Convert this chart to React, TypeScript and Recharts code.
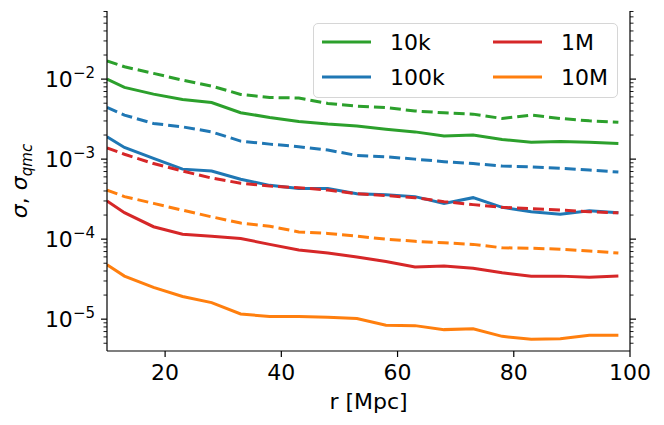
import { LineChart, Line, XAxis, YAxis, Legend } from 'recharts';

const rValues = [10, 13, 18, 23, 28, 33, 38, 43, 48, 53, 58, 63, 68, 73, 78, 83, 88, 93, 98];

// sigma (solid) and sigma_qmc (dashed) per sample size
const sigma10k = [0.0100, 0.00787, 0.00649, 0.00557, 0.0051, 0.0038, 0.00332, 0.00296, 0.00274, 0.00259, 0.00237, 0.00219, 0.00194, 0.0020, 0.00176, 0.00162, 0.00166, 0.00162, 0.00157];
const qmc10k = [0.0169, 0.01426, 0.0118, 0.0097, 0.00818, 0.00644, 0.0059, 0.0058, 0.00497, 0.0046, 0.0044, 0.0040, 0.00379, 0.00365, 0.00322, 0.00355, 0.00322, 0.00301, 0.00288];
const sigma100k = [0.0019, 0.0014, 0.00102, 0.00075, 0.00071, 0.00056, 0.00047, 0.00043, 0.00043, 0.00037, 0.00036, 0.00034, 0.00028, 0.00033, 0.00025, 0.00022, 0.000205, 0.000226, 0.000213];
const qmc100k = [0.00442, 0.00355, 0.00279, 0.00253, 0.00219, 0.00168, 0.00154, 0.00143, 0.0013, 0.00111, 0.00107, 0.0010, 0.00093, 0.00088, 0.00082, 0.0008, 0.00077, 0.00073, 0.00069];
const sigma1M = [0.0003, 0.000214, 0.000143, 0.000115, 0.000109, 0.000102, 0.000086, 0.000073, 0.000067, 0.00006, 0.0000525, 0.000045, 0.0000463, 0.0000434, 0.000038, 0.0000345, 0.0000345, 0.0000335, 0.0000347];
const qmc1M = [0.00138, 0.00115, 0.00088, 0.00071, 0.00058, 0.0005, 0.00046, 0.00044, 0.00041, 0.00037, 0.00035, 0.00033, 0.000294, 0.00027, 0.00025, 0.00024, 0.000232, 0.00022, 0.000213];
const sigma10M = [0.000048, 0.0000345, 0.0000249, 0.0000192, 0.0000161, 0.0000116, 0.0000108, 0.0000108, 0.0000106, 0.0000102, 0.0000084, 0.0000083, 0.0000074, 0.0000076, 0.0000061, 0.0000056, 0.0000057, 0.0000063, 0.0000063];
const qmc10M = [0.00041, 0.00034, 0.00028, 0.00023, 0.00019, 0.000159, 0.000145, 0.000123, 0.000118, 0.000109, 0.0001, 0.000094, 0.00009, 0.000086, 0.000078, 0.000077, 0.000075, 0.000071, 0.000067];

const xTicks = [20, 40, 60, 80, 100];
const majorExps = [-5, -4, -3, -2];
const majorTicks = [1e-5, 1e-4, 1e-3, 1e-2];
const minorTicks: number[] = [];
for (const e of [-6, -5, -4, -3, -2]) {
    for (let m = 2; m <= 9; m++) {
        const v = m * Math.pow(10, e);
        if (v > 4e-6 && v < 0.071) minorTicks.push(v);
    }
}

const series = [
    { key: 'sigma10k', label: '10k', values: sigma10k, color: '#2ca02c', dashed: false },
    { key: 'qmc10k', label: '10k', values: qmc10k, color: '#2ca02c', dashed: true },
    { key: 'sigma100k', label: '100k', values: sigma100k, color: '#1f77b4', dashed: false },
    { key: 'qmc100k', label: '100k', values: qmc100k, color: '#1f77b4', dashed: true },
    { key: 'sigma1M', label: '1M', values: sigma1M, color: '#d62728', dashed: false },
    { key: 'qmc1M', label: '1M', values: qmc1M, color: '#d62728', dashed: true },
    { key: 'sigma10M', label: '10M', values: sigma10M, color: '#ff7f0e', dashed: false },
    { key: 'qmc10M', label: '10M', values: qmc10M, color: '#ff7f0e', dashed: true },
];

const data = rValues.map((r, i) => {
    const row: Record<string, number> = { r };
    series.forEach((s) => {
        row[s.key] = s.values[i];
    });
    return row;
});

const FONT = 'DejaVu Sans';
const PLOT_LEFT = 107;
const PLOT_RIGHT = 630;

function YTick(props: any) {
    const { y, payload, side } = props;
    const v = payload.value;
    const idx = majorTicks.indexOf(v);
    const major = idx >= 0;
    const len = major ? 6 : 3.5;
    const x0 = side === 'left' ? PLOT_LEFT : PLOT_RIGHT;
    const x1 = side === 'left' ? x0 - len : x0 + len;
    return (
        <g>
            <line x1={x0} x2={x1} y1={y} y2={y} stroke="#000" strokeWidth={major ? 1.2 : 0.9} />
            {major && side === 'left' && (
                <text x={PLOT_LEFT - 12} y={y + 8} textAnchor="end" fontSize={22} fontFamily={FONT} fill="#000">
                    10
                    <tspan dy={-9} fontSize={15}>{'\u2212' + Math.abs(majorExps[idx])}</tspan>
                </text>
            )}
        </g>
    );
}

const legendItems = [
    { label: '10k', color: '#2ca02c' },
    { label: '100k', color: '#1f77b4' },
    { label: '1M', color: '#d62728' },
    { label: '10M', color: '#ff7f0e' },
];

function LegendBox() {
    return (
        <div
            style={{
                width: 305,
                height: 75,
                boxSizing: 'border-box',
                border: '1px solid #d6d6d6',
                borderRadius: 5,
                background: 'rgba(255,255,255,0.8)',
            }}
        >
            <svg width={303} height={73}>
                {legendItems.map((item, i) => {
                    const col = Math.floor(i / 2);
                    const row = i % 2;
                    const lx = 8 + col * 171;
                    const ly = 18 + row * 35;
                    return (
                        <g key={item.label}>
                            <line x1={lx} x2={lx + 49} y1={ly} y2={ly} stroke={item.color} strokeWidth={3} />
                            <text x={lx + 68} y={ly + 8} fontSize={22} fontFamily={FONT} fill="#000">
                                {item.label}
                            </text>
                        </g>
                    );
                })}
            </svg>
        </div>
    );
}

export default function App() {
    return (
        <div style={{ width: 664, height: 425, background: '#fff' }}>
            <style>{'body{margin:0}'}</style>
            <LineChart width={664} height={425} data={data} margin={{ top: 11, right: 0, bottom: 0, left: 0 }}>
                <XAxis
                    dataKey="r"
                    type="number"
                    domain={[10, 100]}
                    ticks={xTicks}
                    interval={0}
                    height={74}
                    allowDataOverflow
                    axisLine={{ stroke: '#000', strokeWidth: 1.2 }}
                    tickLine={{ stroke: '#000', strokeWidth: 1.2 }}
                    tickSize={6}
                    tickMargin={7}
                    tick={{ fill: '#000', fontSize: 22, fontFamily: FONT }}
                    label={{ value: 'r [Mpc]', position: 'insideBottom', offset: 16, fill: '#000', fontSize: 22, fontFamily: FONT }}
                />
                <XAxis
                    xAxisId="top"
                    dataKey="r"
                    type="number"
                    domain={[10, 100]}
                    orientation="top"
                    height={0}
                    tick={false}
                    tickLine={false}
                    axisLine={{ stroke: '#000', strokeWidth: 1.2 }}
                />
                <YAxis
                    yAxisId="l"
                    scale="log"
                    type="number"
                    domain={[4e-6, 0.071]}
                    allowDataOverflow
                    ticks={[...majorTicks, ...minorTicks]}
                    interval={0}
                    width={107}
                    axisLine={{ stroke: '#000', strokeWidth: 1.2 }}
                    tickLine={false}
                    tick={<YTick side="left" />}
                    label={{
                        content: () => (
                            <text
                                transform="translate(27,181) rotate(-90)"
                                textAnchor="middle"
                                fontSize={22}
                                fontFamily={FONT}
                                fill="#000"
                            >
                                <tspan fontStyle="italic">σ</tspan>
                                <tspan>, </tspan>
                                <tspan fontStyle="italic">σ</tspan>
                                <tspan fontStyle="italic" fontSize={15} dy={5}>qmc</tspan>
                            </text>
                        ),
                    }}
                />
                <YAxis
                    yAxisId="r"
                    orientation="right"
                    scale="log"
                    type="number"
                    domain={[4e-6, 0.071]}
                    allowDataOverflow
                    ticks={[...majorTicks, ...minorTicks]}
                    interval={0}
                    width={34}
                    axisLine={{ stroke: '#000', strokeWidth: 1.2 }}
                    tickLine={false}
                    tick={<YTick side="right" />}
                />
                <Legend
                    layout="horizontal"
                    verticalAlign="middle"
                    align="center"
                    wrapperStyle={{ top: 23, left: 313, width: 305, height: 75 }}
                    content={() => <LegendBox />}
                />
                {series.map((s) => (
                    <Line
                        key={s.key}
                        yAxisId="l"
                        type="linear"
                        dataKey={s.key}
                        stroke={s.color}
                        strokeWidth={3}
                        strokeDasharray={s.dashed ? '11 5' : undefined}
                        dot={false}
                        activeDot={false}
                        isAnimationActive={false}
                    />
                ))}
            </LineChart>
        </div>
    );
}
